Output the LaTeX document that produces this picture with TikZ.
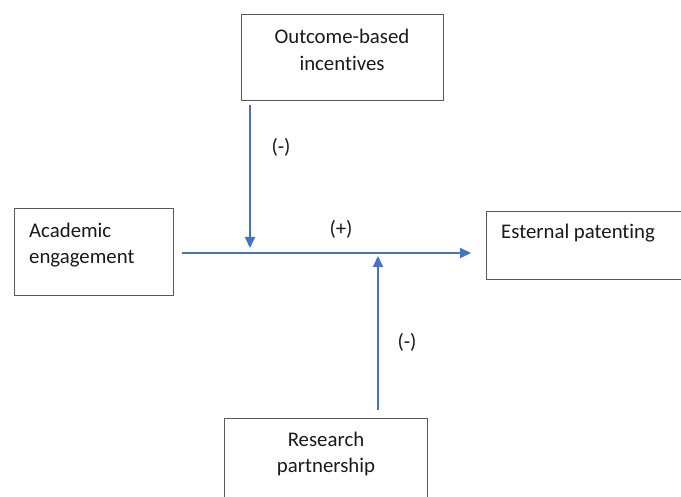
\documentclass[tikz,border=0pt]{standalone}
\usepackage{fontspec}
\setmainfont{Carlito}[RawFeature={-liga;-clig;-dlig;-calt;-rlig}]
\usetikzlibrary{arrows.meta}
\definecolor{arrowblue}{HTML}{4472C4}
\definecolor{boxline}{HTML}{595959}
\begin{document}
\begin{tikzpicture}[x=1pt,y=-1pt,
  box/.style={draw=boxline, line width=0.9pt, rectangle, inner sep=0pt, anchor=north west},
  lbl/.style={font=\fontsize{20.8}{26.5}\selectfont, text=black!90, inner sep=0pt},
  link/.style={draw=arrowblue, line width=1.8pt, -{Triangle[length=11pt,width=10pt]}}
]
\useasboundingbox (0,0) rectangle (681,497);
\clip (0,0) rectangle (681,497);

% boxes
\node[box, minimum width=202pt, minimum height=86pt] (oi) at (241,14) {};
\node[box, minimum width=159pt, minimum height=87pt] (ae) at (14,208) {};
\node[box, minimum width=210pt, minimum height=68pt] (ep) at (486,211) {};
\node[box, minimum width=203pt, minimum height=100pt] (rp) at (224,418) {};

% box texts
\node[lbl, align=center] (oit) at (342,50) {Outcome-based\\incentives};
\node[lbl, align=left, anchor=west] (aet) at (29,245) {Academic\\engagement};
\node[lbl, anchor=west] (ept) at (501,233) {Esternal patenting};
\node[lbl, align=center] (rpt) at (326,454) {Research\\partnership};

% connectors
\coordinate (hstart) at (182,253);
\coordinate (hend) at (471,253);
\coordinate (dtip) at (250,248);
\coordinate (utip) at (378,256);
\draw[link] (hstart) -- (hend);
\draw[link] ([yshift=-4pt]oi.south -| dtip) -- (dtip);
\draw[link] ([yshift=8pt]rp.north -| utip) -- (utip);

% sign labels
\node[lbl] (plus) at (341,229) {(+)};
\node[lbl] (mtop) at (281,147) {(-)};
\node[lbl] (mbot) at (407,342) {(-)};
\end{tikzpicture}
\end{document}
